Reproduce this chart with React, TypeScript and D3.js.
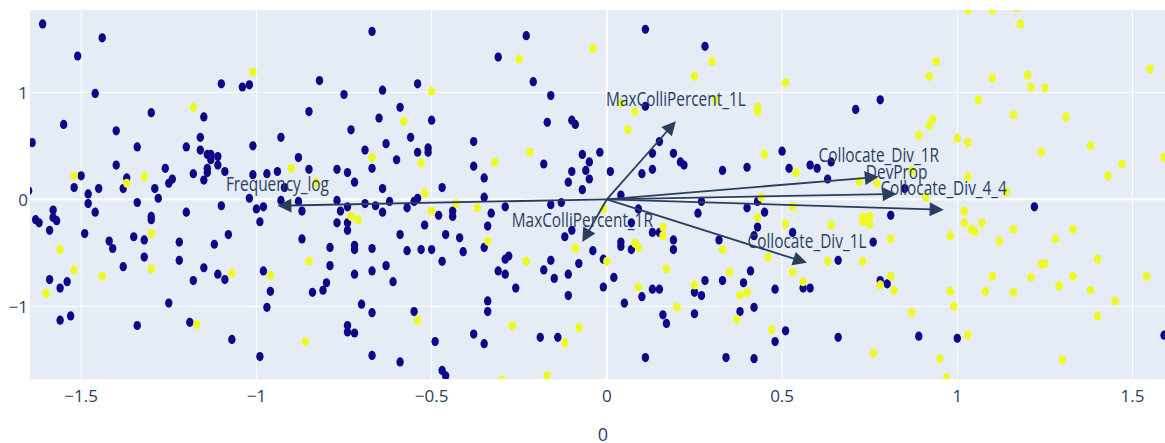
import React, { useEffect, useRef } from 'react';
import * as d3 from 'd3';

// PCA scores (PC1, PC2), class 0 = dark, class 1 = yellow
const scores0: [number, number][] = [
  [-1.61, 1.64], [-1.44, 1.51], [-1.51, 1.34], [-1.46, 0.99], [-1.55, 0.70], [-1.64, 0.53], [-1.40, 0.64], [-1.30, 0.81],
  [-1.15, 0.77], [-1.16, 0.58], [-1.20, 0.49], [-1.34, 0.49], [-1.16, 0.46], [-1.14, 0.42], [-1.13, 0.42], [-1.11, 0.40],
  [-1.13, 0.37], [-1.11, 0.32], [-1.14, 0.29], [-1.14, 0.25], [-1.09, 0.26], [-1.15, 0.18], [-1.18, 0.24], [-1.26, 0.29],
  [-1.24, 0.19], [-1.25, 0.15], [-1.40, 0.32], [-1.50, 0.22], [-1.52, 0.11], [-1.48, 0.05], [-1.48, -0.04], [-1.46, -0.12],
  [-1.45, 0.10], [-1.37, 0.20], [-1.38, 0.10], [-1.34, -0.03], [-1.29, 0.10], [-1.28, 0.01], [-1.58, -0.10], [-1.63, -0.19],
  [-1.58, -0.17], [-1.30, -0.16], [-1.20, -0.12], [-1.10, -0.06], [-1.10, 1.08], [-1.04, 1.05], [-1.02, 1.07], [-1.01, 0.50],
  [-1.01, 0.23], [-0.97, 0.24], [-0.94, 0.26], [-0.93, 0.58], [-0.88, 0.39], [-0.85, 0.82], [-0.82, 1.11], [-0.75, 0.98],
  [-0.73, 0.65], [-0.69, 0.46], [-0.67, 1.57], [-0.64, 1.02], [-0.65, 0.76], [-0.63, 0.52], [-0.60, 0.37], [-0.59, 0.86],
  [-0.67, 0.29], [-0.74, 0.25], [-0.72, 0.16], [-0.77, 0.28], [-0.85, 0.28], [-0.64, 0.10], [-0.62, -0.02], [-0.77, -0.01],
  [-0.88, -0.02], [-0.87, -0.11], [-0.93, -0.01], [-0.92, 0.11], [-1.02, 0.01], [-1.00, -0.09], [-0.98, -0.07], [-0.76, -0.11],
  [-0.74, -0.07], [-0.69, -0.04], [-0.66, -0.06], [-0.64, -0.12], [-1.65, 0.08],
  [-1.62, -0.22], [-1.57, -0.20], [-1.59, -0.29], [-1.49, -0.32], [-1.42, -0.39], [-1.41, -0.46], [-1.35, -0.35], [-1.32, -0.38],
  [-1.32, -0.54], [-1.30, -0.19], [-1.22, -0.40], [-1.22, -0.57], [-1.38, -0.63], [-1.59, -0.75], [-1.56, -0.83], [-1.54, -0.77],
  [-1.15, -0.64], [-1.18, -0.76], [-1.11, -0.70], [-1.09, -0.75], [-1.12, -0.42], [-1.08, -0.33], [-0.99, -0.21], [-0.98, -0.67],
  [-0.96, -0.86], [-0.97, -1.01], [-1.25, -0.97], [-1.19, -1.15], [-1.34, -1.18], [-1.56, -1.13], [-1.53, -1.09], [-1.07, -1.31],
  [-0.99, -1.47], [-0.87, -0.37], [-0.79, -0.45], [-0.79, -0.62], [-0.80, -0.78], [-0.81, -0.85], [-0.84, -0.87], [-0.77, -0.22],
  [-0.74, -0.22], [-0.74, -0.29], [-0.72, -0.43], [-0.72, -0.47], [-0.72, -0.70], [-0.67, -0.46], [-0.67, -0.67], [-0.63, -0.62],
  [-0.61, -0.77], [-0.70, -0.98], [-0.67, -1.06], [-0.74, -1.18], [-0.74, -1.24], [-0.72, -1.25], [-0.67, -1.46], [-0.59, -1.52],
  [-0.59, -0.33],
  [0.11, 1.59], [-0.23, 1.53], [-0.31, 1.33], [-0.21, 1.10], [-0.54, 1.08], [-0.16, 0.97], [0.28, 1.43], [-0.50, 0.74],
  [-0.17, 0.72], [-0.10, 0.74], [-0.09, 0.70], [0.11, 0.87], [-0.56, 0.58], [-0.38, 0.54], [-0.51, 0.48], [-0.51, 0.44],
  [-0.54, 0.44], [-0.02, 0.44], [-0.07, 0.42], [-0.05, 0.35], [-0.06, 0.27], [-0.05, 0.19], [-0.07, 0.09], [-0.10, 0.26],
  [-0.11, 0.16], [-0.18, 0.33], [-0.38, 0.31], [-0.35, 0.20], [-0.47, 0.11], [-0.35, 0.02], [0.01, 0.26], [0.10, 0.24],
  [0.13, 0.28], [0.13, 0.43], [0.15, 0.54], [0.19, 0.43], [0.21, 0.35], [0.22, 0.32], [0.33, 0.27], [0.40, 0.30],
  [0.50, 0.45], [0.52, 0.29], [0.04, 0.04], [0.27, -0.02], [0.26, -0.13], [0.40, -0.08], [0.43, -0.02], [0.45, -0.12],
  [-0.16, -0.05], [-0.13, -0.03], [-0.29, -0.07], [-0.33, -0.13], [-0.57, -0.08], [-0.55, -0.02], [-0.54, 0.01], [-0.48, -0.15],
  [-0.44, -0.11], [-0.44, -0.16], [0.09, -0.09],
  [0.71, 0.84], [0.78, 0.93], [0.58, 0.32], [0.60, 0.29], [0.64, 0.35], [0.63, 0.19], [0.85, 0.10], [1.22, -0.07], [0.81, -0.15],
  [-0.52, -0.24], [-0.57, -0.48], [-0.53, -0.47], [-0.50, -0.47], [-0.47, -0.58], [-0.46, -0.33], [-0.42, -0.36], [-0.41, -0.49],
  [-0.35, -0.45], [-0.34, -0.25], [-0.29, -0.56], [-0.28, -0.53], [-0.31, -0.67], [-0.29, -0.70], [-0.26, -0.83], [-0.34, -0.95],
  [-0.34, -1.05], [-0.55, -1.05], [-0.38, -1.26], [-0.35, -1.35], [-0.49, -1.33], [-0.47, -1.60], [-0.46, -1.65], [-0.12, -0.35],
  [-0.10, -0.29], [-0.16, -0.57], [-0.18, -0.66], [-0.15, -0.74], [-0.11, -0.70], [-0.08, -0.60], [-0.11, -0.90], [-0.19, -1.29],
  [-0.14, -1.29], [-0.04, -0.48], [-0.01, -0.56], [-0.01, -0.82], [0.02, -0.73], [0.05, -0.97], [0.04, -0.40], [0.04, -0.44],
  [0.07, -0.47], [0.07, -0.22], [0.13, -0.31], [0.15, -0.31], [0.10, -0.91], [0.13, -0.84], [0.15, -0.84], [0.19, -0.38],
  [0.19, -0.47], [0.16, -1.08], [0.17, -1.16], [0.11, -1.48], [0.25, -0.87], [0.27, -0.90], [0.25, -1.07], [0.28, -0.76],
  [0.32, -0.38], [0.33, -0.76], [0.39, -0.78], [0.41, -0.67], [0.38, -1.05], [0.42, -1.01], [0.34, -1.48], [0.42, -1.49],
  [0.48, -0.84], [0.51, -1.23], [0.48, -1.33], [0.42, -0.34], [0.43, -0.26], [0.53, -0.31],
  [0.76, -0.40], [0.66, -0.57], [0.56, -0.83], [0.58, -0.83], [0.78, -0.76], [0.80, -0.79], [0.66, -1.29], [0.89, -1.28],
  [1.00, -1.30], [1.59, -1.27],
];

const scores1: [number, number][] = [
  [-1.01, 1.19], [-1.18, 0.86], [-1.52, 0.22], [-1.32, 0.21], [-1.37, 0.15], [-0.90, 0.29], [-0.83, 0.16], [-0.67, 0.39],
  [-0.73, -0.16], [-0.71, -0.19],
  [-1.30, -0.32], [-1.56, -0.47], [-1.52, -0.66], [-1.60, -0.88], [-1.44, -0.72], [-1.30, -0.65], [-1.07, -0.69], [-0.96, -0.71],
  [-0.85, -0.58], [-1.17, -1.17], [-0.86, -1.33],
  [-0.04, 1.41], [-0.25, 1.31], [0.25, 1.15], [0.30, 1.29], [0.51, 1.09], [-0.50, 1.01], [-0.58, 0.73], [0.08, 0.82],
  [0.06, 0.65], [0.43, 0.86], [0.43, 0.82], [0.31, 0.93], [0.04, 0.90], [-0.22, 0.44], [-0.32, 0.35], [-0.53, 0.34],
  [0.45, 0.42], [0.54, 0.25], [-0.52, 0.06], [-0.43, -0.04], [-0.50, -0.11], [-0.37, -0.08], [-0.01, -0.09], [0.44, 0.02],
  [0.53, -0.07], [0.43, -0.17],
  [1.03, 1.77], [1.10, 1.77], [1.17, 1.79], [1.18, 1.64], [0.94, 1.29], [0.92, 1.15], [1.10, 1.13], [1.20, 1.16],
  [1.21, 1.05], [1.25, 1.04], [1.55, 1.22], [1.06, 0.93], [1.16, 0.79], [1.31, 0.77], [0.93, 0.75], [0.92, 0.69],
  [0.89, 0.60], [1.00, 0.57], [1.03, 0.53], [1.24, 0.44], [1.38, 0.50], [1.59, 0.39], [1.47, 0.33], [1.43, 0.22],
  [1.03, 0.21], [0.72, 0.17], [0.87, 0.27], [0.77, 0.15], [0.91, 0.02], [1.14, 0.07], [1.02, -0.11], [0.73, -0.17],
  [0.75, -0.16],
  [-0.34, -0.39], [-0.23, -0.58], [-0.09, -0.46], [0.00, -0.58], [0.08, -0.41], [0.09, -0.45], [0.16, -0.26], [0.16, -0.34],
  [0.17, -0.65], [0.09, -0.82], [0.25, -0.80], [0.20, -1.01], [0.33, -0.47], [0.35, -0.68], [0.38, -0.90], [0.40, -0.87],
  [0.37, -1.12], [0.46, -0.54], [0.47, -1.22], [0.51, -0.23], [0.53, -0.68], [-0.54, -1.13], [-0.27, -1.18], [-0.08, -1.20],
  [-0.12, -1.34], [-0.17, -1.65], [-0.30, -1.69],
  [0.64, -0.24], [0.73, -0.21], [0.75, -0.23], [0.81, -0.37], [0.73, -0.58], [0.63, -0.58], [0.56, -0.77], [0.78, -0.80],
  [0.81, -0.72], [0.82, -0.85], [0.87, -1.06], [0.76, -1.44], [0.98, -0.34], [1.02, -0.22], [1.04, -0.28], [1.05, -0.30],
  [1.07, -0.22], [1.12, -0.39], [1.16, -0.28], [1.28, -0.37], [1.33, -0.28], [1.40, -0.56], [1.54, -0.72], [1.10, -0.72],
  [1.21, -0.73], [1.24, -0.61], [1.25, -0.60], [1.33, -0.72], [0.98, -0.86], [1.08, -0.86], [1.16, -0.87], [1.29, -0.81],
  [1.38, -0.85], [1.45, -0.95], [0.99, -1.00], [1.40, -1.09], [1.03, -1.27], [1.30, -1.50], [0.95, -1.49], [0.97, -1.67],
];

// feature loadings
const features = ['Frequency_log', 'MaxColliPercent_1L', 'Collocate_Div_1R', 'DevProp', 'Collocate_Div_4_4', 'MaxColliPercent_1R', 'Collocate_Div_1L'];
const loadingX = [-0.94, 0.197, 0.776, 0.827, 0.961, -0.07, 0.571];
const loadingY = [-0.06, 0.73, 0.21, 0.05, -0.098, -0.40, -0.594];

const xTicks = [-1.5, -1, -0.5, 0, 0.5, 1, 1.5];
const yTicks = [-1, 0, 1];
const xTitle = '0';

const App = () => {
  const svgRef = useRef<SVGSVGElement>(null);

  useEffect(() => {
    const width = 1165;
    const height = 443;
    const plot = { left: 30, right: 1176, top: 10, bottom: 379 };
    const ink = '#2a3f5f';
    const fmt = (v: number) => String(v).replace('-', '\u2212');

    const svg = d3.select(svgRef.current);
    svg.selectAll('*').remove();
    svg.attr('width', width).attr('height', height);

    const x = d3.scaleLinear().domain([-1.646, 1.624]).range([plot.left, plot.right]);
    const y = d3.scaleLinear().domain([-1.68, 1.77]).range([plot.bottom, plot.top]);

    svg.append('defs').append('clipPath').attr('id', 'plot-clip')
      .append('rect')
      .attr('x', plot.left).attr('y', plot.top)
      .attr('width', plot.right - plot.left).attr('height', plot.bottom - plot.top);

    // background
    svg.append('rect')
      .attr('x', plot.left).attr('y', plot.top)
      .attr('width', plot.right - plot.left).attr('height', plot.bottom - plot.top)
      .attr('fill', '#e5ecf6');

    // grid
    const grid = svg.append('g');
    grid.selectAll('.gx').data(xTicks).join('line')
      .attr('x1', d => x(d)).attr('x2', d => x(d))
      .attr('y1', plot.top).attr('y2', plot.bottom)
      .attr('stroke', '#fff').attr('stroke-width', d => (d === 0 ? 2 : 1));
    grid.selectAll('.gy').data(yTicks).join('line')
      .attr('y1', d => y(d)).attr('y2', d => y(d))
      .attr('x1', plot.left).attr('x2', plot.right)
      .attr('stroke', '#fff').attr('stroke-width', d => (d === 0 ? 2 : 1));

    // points
    const pts = svg.append('g').attr('clip-path', 'url(#plot-clip)');
    pts.selectAll('.p0').data(scores0).join('ellipse')
      .attr('cx', d => x(d[0])).attr('cy', d => y(d[1]))
      .attr('rx', 3.7).attr('ry', 4.6)
      .attr('fill', '#0d0887');
    pts.selectAll('.p1').data(scores1).join('ellipse')
      .attr('cx', d => x(d[0])).attr('cy', d => y(d[1]))
      .attr('rx', 3.7).attr('ry', 4.6)
      .attr('fill', '#f0f921');

    // loading arrows
    const arrows = svg.append('g');
    const x0 = x(0);
    const y0 = y(0);
    const headLen = 14;
    const headHalf = 7;
    features.forEach((name, i) => {
      const tx = x(loadingX[i]);
      const ty = y(loadingY[i]);
      const ang = Math.atan2(ty - y0, tx - x0);
      const bx = tx - headLen * Math.cos(ang);
      const by = ty - headLen * Math.sin(ang);
      arrows.append('line')
        .attr('x1', x0).attr('y1', y0)
        .attr('x2', bx + 2 * Math.cos(ang)).attr('y2', by + 2 * Math.sin(ang))
        .attr('stroke', ink).attr('stroke-width', 1.8);
      const px = -Math.sin(ang) * headHalf;
      const py = Math.cos(ang) * headHalf;
      arrows.append('path')
        .attr('d', `M${tx},${ty}L${bx + px},${by + py}L${bx - px},${by - py}Z`)
        .attr('fill', ink);
      arrows.append('text')
        .attr('transform', `translate(${tx},${ty - 15}) scale(0.77,1)`)
        .attr('text-anchor', 'middle')
        .attr('font-family', '"Open Sans", sans-serif')
        .attr('font-size', 20)
        .attr('fill', ink)
        .text(name);
    });

    // tick labels
    const labels = svg.append('g')
      .attr('font-family', '"Open Sans", sans-serif')
      .attr('font-size', 17)
      .attr('fill', ink);
    labels.selectAll('.tx').data(xTicks).join('text')
      .attr('x', d => x(d)).attr('y', 402)
      .attr('text-anchor', 'middle')
      .text(d => fmt(d));
    labels.selectAll('.ty').data(yTicks).join('text')
      .attr('x', 28).attr('y', d => y(d) + 6.5)
      .attr('text-anchor', 'end')
      .text(d => fmt(d));

    // axis title
    svg.append('text')
      .attr('x', (plot.left + plot.right) / 2).attr('y', 441)
      .attr('text-anchor', 'middle')
      .attr('font-family', '"Open Sans", sans-serif')
      .attr('font-size', 18)
      .attr('fill', ink)
      .text(xTitle);
  }, []);

  return (
    <svg
      ref={svgRef}
      style={{ position: 'absolute', left: 0, top: 0, background: '#fff' }}
    />
  );
};

export default App;
